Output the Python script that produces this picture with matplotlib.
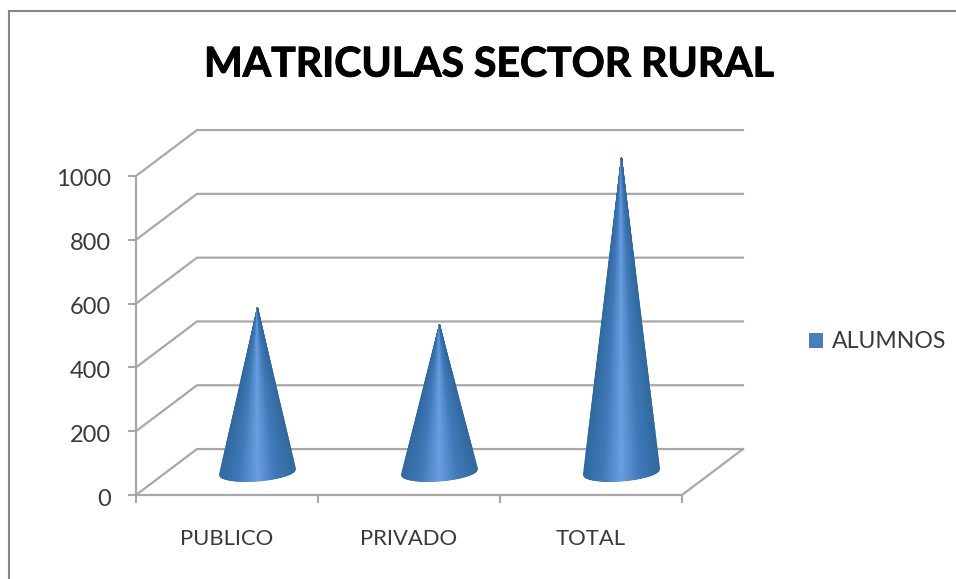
"""Conos 3D de matriculas del sector rural."""

import matplotlib

matplotlib.use("Agg")
import matplotlib.patheffects as pe
import matplotlib.pyplot as plt
import numpy as np
from matplotlib.colors import LinearSegmentedColormap
from matplotlib.patches import Patch, Rectangle
from matplotlib.transforms import ScaledTranslation

plt.rcParams["font.family"] = ["Lato", "DejaVu Sans"]

TITLE = "MATRICULAS SECTOR RURAL"
categories = ["PUBLICO", "PRIVADO", "TOTAL"]
alumnos = [515, 462, 985]
y_ticks = [0, 200, 400, 600, 800, 1000]
legend_label = "ALUMNOS"

W, H = 956, 579
GRID = "#a8a8a8"
TEXT = "#3a3a3a"

# profundidad de la perspectiva, en unidades de datos
DEPTH_X = 0.335
DEPTH_Y = 144
BASE_RX = 0.209
BASE_RY = 28
BASE_TILT = 9

cone_cmap = LinearSegmentedColormap.from_list(
    "cone", ["#31699f", "#3f79b8", "#6a9fe2", "#3f79b8", "#31699f"]
)

fig = plt.figure(figsize=(W / 100, H / 100), dpi=100, facecolor="white")
ax = fig.add_axes([136 / W, 1 - 495 / H, 546 / W, 319 / H])
ax.set_xlim(0, 3)
ax.set_ylim(0, 1000)
ax.patch.set_visible(False)
for spine in ax.spines.values():
    spine.set_visible(False)

# marco exterior
fig.add_artist(
    Rectangle(
        (9 / W, -0.02),
        1,
        1.02 - 11 / H,
        transform=fig.transFigure,
        fill=False,
        edgecolor="#868686",
        linewidth=1.5,
    )
)

# rejilla: pared lateral y pared de fondo
for v in y_ticks:
    ax.plot(
        [0, DEPTH_X, 3 + DEPTH_X],
        [v, v + DEPTH_Y, v + DEPTH_Y],
        color=GRID,
        linewidth=1.6,
        clip_on=False,
        solid_joinstyle="miter",
        zorder=1,
    )

# suelo y ejes
ax.plot([0, 3, 3 + DEPTH_X], [0, 0, DEPTH_Y], color=GRID, lw=1.6, clip_on=False, zorder=1)
ax.plot([0, 0], [0, 1000], color=GRID, lw=1.6, clip_on=False, zorder=1)

ax.set_xticks(range(4))
ax.set_xticklabels([])
ax.set_yticks(y_ticks)
ax.set_yticklabels([str(v) for v in y_ticks], fontsize=17, color=TEXT)
ax.tick_params(axis="both", length=6, width=1.5, color=GRID)
ax.tick_params(axis="y", pad=12)
for tick in ax.xaxis.get_major_ticks() + ax.yaxis.get_major_ticks():
    tick.tick1line.set_clip_on(False)
for label in ax.get_yticklabels():
    label.set_transform(label.get_transform() + ScaledTranslation(0, -2 / 100, fig.dpi_scale_trans))

for i, name in enumerate(categories):
    ax.annotate(
        name,
        (i + 0.5, 0),
        xytext=(0, -44),
        textcoords="offset pixels",
        ha="center",
        va="center",
        fontsize=15.8,
        color=TEXT,
    )

# conos: malla de la base eliptica hacia la punta, sombreada segun el angulo
u = np.linspace(-1, 1, 81)
s = np.linspace(0, 1, 41)
for i, value in enumerate(alumnos):
    cx = i + 0.5 + DEPTH_X / 2
    base_y = DEPTH_Y / 2
    tip_y = value + DEPTH_Y / 2
    edge_x = cx + BASE_RX * u
    edge_y = base_y - BASE_RY * np.sqrt(1 - u**2) + BASE_TILT * u
    X = np.outer(1 - s, edge_x) + s[:, None] * cx
    Y = np.outer(1 - s, edge_y) + s[:, None] * tip_y
    C = np.tile(u, (len(s), 1))
    ax.pcolormesh(X, Y, C, cmap=cone_cmap, shading="gouraud", clip_on=False, zorder=3)

ax.set_xlim(0, 3)
ax.set_ylim(0, 1000)

fig.text(
    489 / W,
    1 - 65 / H,
    TITLE,
    ha="center",
    va="center",
    fontsize=29.5,
    fontweight="bold",
    color="black",
    path_effects=[pe.withStroke(linewidth=0.7, foreground="black")],
)

ax.legend(
    handles=[Patch(facecolor="#4a7ebb", edgecolor="none", label=legend_label)],
    loc="center left",
    bbox_to_anchor=(788 / W, 1 - 342 / H),
    bbox_transform=fig.transFigure,
    frameon=False,
    fontsize=16.6,
    handlelength=0.62,
    handleheight=0.62,
    handletextpad=0.38,
    labelcolor=TEXT,
)

fig.savefig("out.png", dpi=100)
plt.close(fig)
